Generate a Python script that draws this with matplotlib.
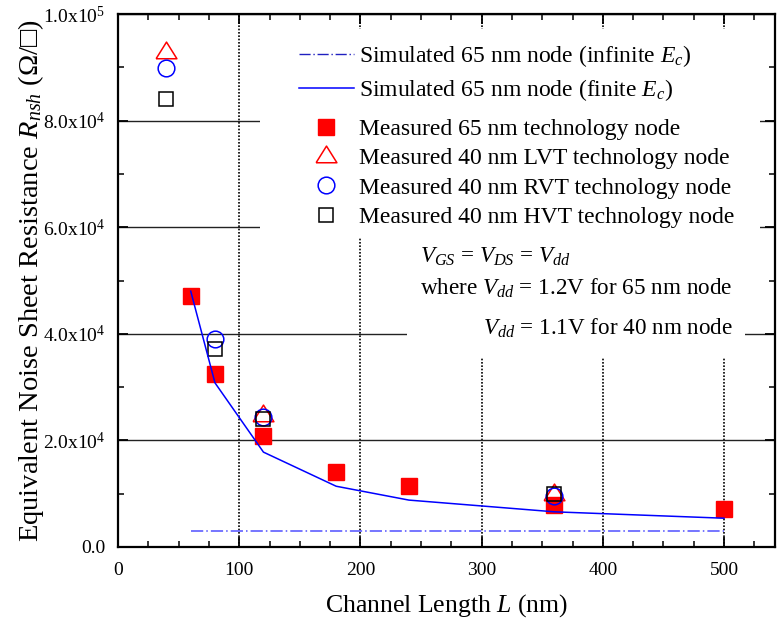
import matplotlib
matplotlib.use("Agg")
import matplotlib.pyplot as plt
from matplotlib.lines import Line2D
from matplotlib.patches import Rectangle
from matplotlib.ticker import MultipleLocator, FuncFormatter

plt.rcParams['font.family'] = ['Liberation Serif', 'DejaVu Sans']
plt.rcParams['mathtext.fontset'] = 'custom'
plt.rcParams['mathtext.rm'] = 'Liberation Serif'
plt.rcParams['mathtext.it'] = 'Liberation Serif:italic'
plt.rcParams['mathtext.bf'] = 'Liberation Serif:bold'

# simulated 65 nm curves
L_sim = [60, 80, 120, 180, 240, 360, 500]
R_sim_finite = [48000, 30800, 17800, 11400, 8800, 6600, 5400]
R_sim_infinite = [3000, 3000, 3000, 3000, 3000, 3000, 3000]

# measured 65 nm node
L_65 = [60, 80, 120, 180, 240, 360, 500]
R_65 = [47100, 32400, 20900, 14100, 11400, 7900, 7070]

# measured 40 nm node, three flavours
L_lvt = [40, 120, 360]
R_lvt = [92900, 24700, 9900]
L_rvt = [40, 80, 120, 360]
R_rvt = [89900, 39000, 24400, 9600]
L_hvt = [40, 80, 120, 360]
R_hvt = [84000, 37200, 24100, 9900]

x_ticks = [0, 100, 200, 300, 400, 500]
y_ticks = [0, 20000, 40000, 60000, 80000, 100000]

# open triangle a bit flatter than matplotlib's '^'
tri = [(-1, -0.6), (1, -0.6), (0, 1.0), (-1, -0.6)]
DASHDOT = (0, (8, 2, 1, 2))


def sci_label(v, pos):
    if v == 0:
        return "0.0"
    exp = len(str(int(v))) - 1
    mant = v / 10 ** exp
    return r"$\mathregular{%.1fx10^{%d}}$" % (mant, exp)


fig = plt.figure(figsize=(7.83, 6.23), dpi=100)
ax = fig.add_axes([0.1507, 0.122, 0.839, 0.8555])
ax.set_axisbelow(True)

ax.set_xlim(0, 542)
ax.set_ylim(0, 100000)
ax.set_xticks(x_ticks)
ax.set_yticks(y_ticks)
ax.xaxis.set_minor_locator(MultipleLocator(25))
ax.yaxis.set_minor_locator(MultipleLocator(10000))
ax.yaxis.set_major_formatter(FuncFormatter(sci_label))

ax.tick_params(which='both', direction='in', top=True, right=True)
ax.tick_params(which='major', length=7, width=1.3, labelsize=14)
ax.tick_params(which='minor', length=4, width=1.1)
ax.tick_params(axis='x', pad=11)
ax.tick_params(axis='y', pad=9)
for s in ax.spines.values():
    s.set_linewidth(1.6)

ax.xaxis.grid(True, color='black', linestyle=(0, (1, 1)), linewidth=1.2)
ax.yaxis.grid(True, color='#222222', linestyle='-', linewidth=1.0)

# white boxes behind legend and annotation hide the grid there
ax.add_patch(Rectangle((0.216, 0.582), 0.762, 0.39, transform=ax.transAxes,
                       facecolor='white', edgecolor='none', zorder=1))
ax.add_patch(Rectangle((0.44, 0.356), 0.514, 0.23, transform=ax.transAxes,
                       facecolor='white', edgecolor='none', zorder=1))

ax.plot(L_65, R_65, 's', color='red', markersize=11, zorder=3)
ax.plot(L_lvt, R_lvt, marker=tri, linestyle='none', markerfacecolor='none',
        markeredgecolor='red', markersize=15, markeredgewidth=1.1, zorder=4)
ax.plot(L_rvt, R_rvt, 'o', markerfacecolor='none', markeredgecolor='blue',
        markersize=12, markeredgewidth=1.1, zorder=4)
ax.plot(L_hvt, R_hvt, 's', markerfacecolor='none', markeredgecolor='black',
        markersize=10.5, markeredgewidth=1.1, zorder=4)
ax.plot(L_sim, R_sim_infinite, color='#4f4fff', linestyle=DASHDOT,
        linewidth=1.1, zorder=5)
ax.plot(L_sim, R_sim_finite, color='blue', linewidth=1.1, zorder=5)

sim_handles = [
    Line2D([], [], color='#2020c0', linestyle=DASHDOT, linewidth=1.0),
    Line2D([], [], color='blue', linewidth=1.1),
]
sim_labels = [
    r"Simulated 65 nm node (infinite $E_c$)",
    r"Simulated 65 nm node (finite $E_c$)",
]
meas_handles = [
    Line2D([], [], marker='s', color='red', linestyle='none', markersize=11),
    Line2D([], [], marker=tri, markerfacecolor='none', markeredgecolor='red',
           linestyle='none', markersize=15, markeredgewidth=1.1),
    Line2D([], [], marker='o', markerfacecolor='none', markeredgecolor='blue',
           linestyle='none', markersize=12, markeredgewidth=1.1),
    Line2D([], [], marker='s', markerfacecolor='none', markeredgecolor='black',
           linestyle='none', markersize=10.5, markeredgewidth=1.1),
]
meas_labels = [
    "Measured 65 nm technology node",
    "Measured 40 nm LVT technology node",
    "Measured 40 nm RVT technology node",
    "Measured 40 nm HVT technology node",
]
leg_kw = dict(loc='upper left', frameon=False, fontsize=17, handlelength=2.35,
              handletextpad=0.2, borderpad=0, borderaxespad=0)
leg1 = ax.legend(sim_handles, sim_labels, bbox_to_anchor=(0.275, 0.946),
                 labelspacing=0.36, **leg_kw)
ax.add_artist(leg1)
ax.legend(meas_handles, meas_labels, bbox_to_anchor=(0.275, 0.804),
          labelspacing=0.33, **leg_kw)

ax.text(0.4597, 0.5328, r"$V_{GS}$ = $V_{DS}$ = $V_{dd}$", transform=ax.transAxes,
        fontsize=16.7, ha='left', va='baseline', zorder=6)
ax.text(0.4597, 0.4728, r"where $V_{dd}$ = 1.2V for 65 nm node", transform=ax.transAxes,
        fontsize=16.7, ha='left', va='baseline', zorder=6)
ax.text(0.936, 0.3977, r"$V_{dd}$ = 1.1V for 40 nm node", transform=ax.transAxes,
        fontsize=16.7, ha='right', va='baseline', zorder=6)

ax.set_xlabel(r"Channel Length $L$ (nm)", fontsize=18.5, labelpad=9)
ax.set_ylabel("Equivalent Noise Sheet Resistance $R_{nsh}$ (\u03a9/\u25a1)", fontsize=20.5,
              labelpad=-2)

fig.savefig("out.png", dpi=100)
